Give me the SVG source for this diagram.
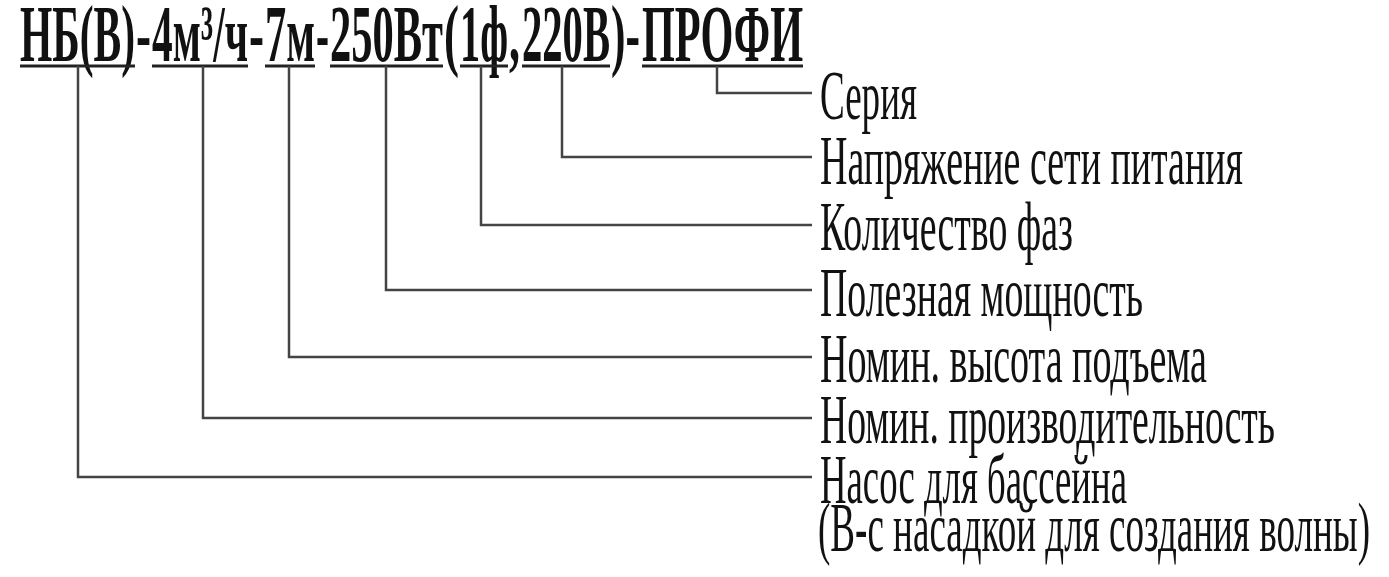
<svg xmlns="http://www.w3.org/2000/svg" width="1389" height="577" viewBox="0 0 1389 577">
<style>
.t{font-family:"Liberation Serif","Times New Roman",serif;font-weight:bold;font-size:80px;fill:#111}
.l{font-family:"Liberation Serif","Times New Roman",serif;font-size:70px;fill:#111}
.u{stroke:#222;stroke-width:3;fill:none}
.c{stroke:#444;stroke-width:2.5;fill:none}
</style>
<rect width="1389" height="577" fill="#fff"/>
<g id="title">
<text class="t" y="61"><tspan x="20" textLength="115" lengthAdjust="spacingAndGlyphs">НБ(В)</tspan><tspan x="136" textLength="15" lengthAdjust="spacingAndGlyphs">-</tspan><tspan x="152" textLength="96" lengthAdjust="spacingAndGlyphs">4м³/ч</tspan><tspan x="249" textLength="15" lengthAdjust="spacingAndGlyphs">-</tspan><tspan x="265" textLength="50" lengthAdjust="spacingAndGlyphs">7м</tspan><tspan x="316" textLength="13" lengthAdjust="spacingAndGlyphs">-</tspan><tspan x="330" textLength="113" lengthAdjust="spacingAndGlyphs">250Вт</tspan><tspan x="444" textLength="15" lengthAdjust="spacingAndGlyphs">(</tspan><tspan x="460" textLength="48" lengthAdjust="spacingAndGlyphs">1ф</tspan><tspan x="509" textLength="11" lengthAdjust="spacingAndGlyphs">,</tspan><tspan x="522" textLength="88" lengthAdjust="spacingAndGlyphs">220В</tspan><tspan x="611" textLength="29" lengthAdjust="spacingAndGlyphs">)-</tspan><tspan x="642" textLength="161" lengthAdjust="spacingAndGlyphs">ПРОФИ</tspan></text>
<path class="u" d="M20 66H135M152 66H248M265 66H315M330 66H443M460 66H508M522 66H610M642 66H803"/>
</g>
<g id="connectors">
<path class="c" d="M717 66V93H812"/>
<path class="c" d="M562 66V157H812"/>
<path class="c" d="M481 66V225H812"/>
<path class="c" d="M386 66V290H812"/>
<path class="c" d="M289 66V357H812"/>
<path class="c" d="M203 66V418H812"/>
<path class="c" d="M78 66V477H812"/>
</g>
<g id="label-series"><text class="l" x="820" y="119" textLength="97" lengthAdjust="spacingAndGlyphs">Серия</text></g>
<g id="label-voltage"><text class="l" x="820" y="184" textLength="423" lengthAdjust="spacingAndGlyphs">Напряжение сети питания</text></g>
<g id="label-phases"><text class="l" x="820" y="250" textLength="253" lengthAdjust="spacingAndGlyphs">Количество фаз</text></g>
<g id="label-power"><text class="l" x="820" y="316" textLength="323" lengthAdjust="spacingAndGlyphs">Полезная мощность</text></g>
<g id="label-height"><text class="l" x="820" y="382" textLength="387" lengthAdjust="spacingAndGlyphs">Номин. высота подъема</text></g>
<g id="label-capacity"><text class="l" x="820" y="443" textLength="455" lengthAdjust="spacingAndGlyphs">Номин. производительность</text></g>
<g id="label-pump">
<text class="l" x="820" y="503" textLength="307" lengthAdjust="spacingAndGlyphs">Насос для бассейна</text>
<text class="l" x="818" y="551" textLength="552" lengthAdjust="spacingAndGlyphs">(В-с насадкой для создания волны)</text>
</g>
</svg>
